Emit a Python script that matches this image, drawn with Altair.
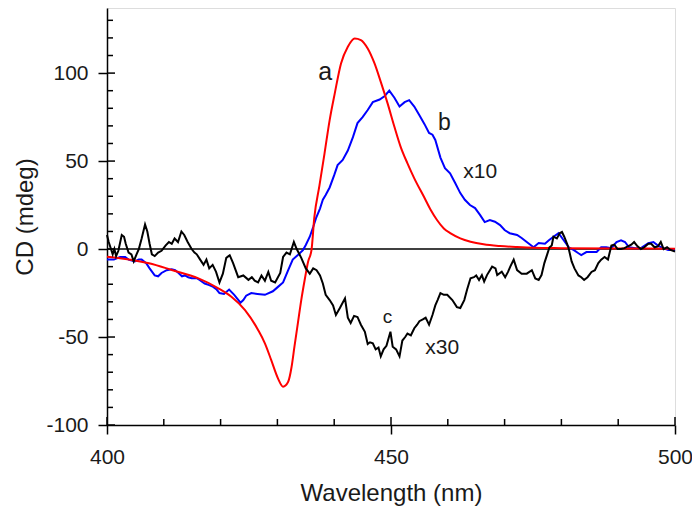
import altair as alt
import pandas as pd

# ---- data ----
# curve a (red)
a_x = [400.0, 404.4, 407.4, 411.4, 416.1, 419.6, 421.9, 424.3, 426.6, 427.8, 428.9, 430.1, 431.0,
       431.9, 432.5, 433.0, 433.6, 434.2, 434.8, 435.4, 436.0, 436.5, 437.4, 438.3, 439.2, 440.1,
       441.2, 442.4, 443.6, 444.7, 445.9, 447.1, 448.2, 449.4, 450.6, 451.7, 452.9, 454.1, 455.8,
       457.0, 458.1, 459.3, 460.5, 462.2, 464.0, 466.3, 469.2, 472.2, 475.1, 480.0, 490.0, 500.0]
a_y = [-4.4, -6.2, -8.1, -11.9, -16.7, -22.3, -27.1, -34.7, -46.0, -53.6, -63.0, -73.5, -78.2,
       -75.4, -66.9, -55.5, -42.2, -29.0, -17.6, -7.2, -0.6, 18.0, 36.0, 54.4, 73.3, 88.5,
       105.5, 115.0, 119.7, 118.8, 114.0, 105.5, 95.0, 82.8, 69.5, 58.1, 48.7, 40.2, 29.7,
       22.2, 16.5, 11.7, 8.9, 6.1, 4.2, 2.7, 1.7, 1.1, 0.7, 0.5, 0.3, 0.2]

# curve b (blue, x10)
b_x = [400.0, 401.2, 402.3, 403.2, 403.8, 404.9, 405.6, 406.1, 406.9, 407.5, 408.4, 409.0, 409.6,
       410.5, 411.4, 412.0, 412.6, 413.2, 413.7, 414.3, 414.9, 415.8, 416.3, 417.2, 418.0, 418.7,
       419.3, 419.8, 420.6, 421.5, 422.4, 423.0, 423.5, 424.0, 424.5, 425.4, 426.5, 427.8, 429.2,
       430.1, 431.0, 431.9, 432.7, 433.6, 434.5, 435.0, 435.7, 436.3, 436.8, 437.5, 438.0, 438.5,
       439.2, 440.0, 440.6, 441.5, 442.4, 443.3, 444.1, 445.0, 445.9, 446.8, 448.0, 448.9, 449.7,
       450.6, 451.5, 452.4, 453.2, 454.1, 455.0, 455.9, 456.7, 457.3, 457.8, 458.7, 459.5, 460.4,
       461.3, 462.2, 463.0, 463.9, 464.8, 465.7, 466.5, 467.4, 468.3, 469.2, 470.0, 470.9, 472.2,
       473.0, 473.9, 475.1, 476.0, 477.1, 477.8, 478.6, 479.5, 480.4, 481.3, 482.2, 483.0, 483.5,
       484.4, 485.3, 486.2, 487.0, 487.9, 488.8, 489.7, 490.5, 491.2, 491.9, 493.0, 494.0, 495.3,
       496.2, 497.0, 497.9, 498.8, 500.0]
b_y = [-6.0, -6.0, -4.5, -4.5, -6.0, -7.0, -6.0, -6.0, -8.0, -11.0, -15.0, -15.5, -13.6,
       -12.0, -11.5, -12.0, -13.6, -15.5, -15.0, -16.0, -16.6, -16.6, -17.6, -19.6, -20.5, -21.5,
       -23.0, -25.0, -25.5, -23.0, -26.0, -28.5, -30.5, -29.0, -26.5, -25.0, -25.5, -26.0, -24.0,
       -21.5, -19.0, -12.0, -6.0, -3.4, -0.6, 2.3, 7.0, 12.5, 17.6, 23.0, 28.0, 30.7,
       35.0, 42.0, 47.7, 50.6, 56.0, 63.6, 71.6, 75.0, 79.0, 83.5, 85.0, 87.0, 90.0,
       86.0, 81.0, 83.5, 84.6, 81.0, 76.0, 71.0, 66.0, 65.0, 62.0, 52.0, 46.0, 43.0,
       37.5, 31.8, 28.0, 25.0, 23.3, 19.3, 15.3, 16.5, 15.5, 13.6, 10.8, 9.0, 8.0,
       6.3, 4.0, 1.0, 3.4, 3.0, 5.0, 7.0, 9.0, 5.0, 1.0, -0.6, -2.4, -3.4,
       -1.7, -1.7, -1.7, 1.0, 1.0, 0.5, 4.0, 5.0, 4.0, 1.0, 0.5, 0.5, 3.4,
       4.0, 2.0, 0.5, -0.6, -0.6]

# curve c (black, x30)
c_x = [400.0, 400.3, 400.6, 401.0, 401.3, 401.6, 402.0, 402.6, 403.0, 403.3, 403.8, 404.3, 404.7,
       405.2, 405.6, 406.1, 406.7, 407.1, 407.5, 407.9, 408.4, 409.0, 409.6, 410.3, 410.9, 411.4,
       411.9, 412.5, 413.1, 413.6, 414.2, 414.9, 415.4, 415.8, 416.4, 417.0, 417.5, 418.0, 418.6,
       419.2, 419.8, 420.4, 421.0, 421.6, 422.2, 423.1, 424.0, 424.9, 425.5, 426.0, 426.6, 427.2,
       427.8, 428.4, 428.9, 429.6, 430.5, 431.0, 431.6, 432.2, 432.9, 433.4, 434.2, 435.0, 435.7,
       436.3, 436.9, 437.5, 438.0, 438.5, 439.2, 439.8, 440.3, 441.0, 441.9, 442.4, 442.9, 443.5,
       444.1, 444.7, 445.4, 445.9, 446.3, 446.8, 447.3, 447.8, 448.2, 448.7, 449.2, 449.9, 450.3,
       450.9, 451.5, 452.0, 452.5, 452.9, 453.5, 454.1, 454.6, 455.0, 455.6, 456.1, 456.7, 457.3,
       457.8, 458.2, 458.7, 459.3, 459.9, 460.8, 461.6, 462.2, 462.9, 463.4, 464.0, 464.6, 465.0,
       465.5, 466.0, 466.4, 466.9, 467.8, 468.4, 468.7, 469.5, 470.1, 470.6, 471.0, 471.6, 472.2,
       473.0, 473.9, 474.8, 475.4, 476.0, 476.5, 477.0, 477.5, 477.9, 478.3, 478.6, 479.2, 479.7,
       480.1, 480.5, 481.0, 481.3, 481.8, 482.3, 483.0, 483.5, 484.0, 484.6, 485.3, 485.9, 486.5,
       487.0, 487.6, 488.2, 488.8, 489.3, 489.9, 490.5, 491.1, 491.7, 492.3, 492.8, 493.4, 494.0,
       494.6, 495.3, 495.8, 496.4, 497.0, 497.5, 498.0, 498.6, 499.2, 500.0]
c_y = [8.0, 4.0, 1.0, -3.0, 0.0, -4.0, -1.0, 8.0, 7.0, 3.0, -2.0, -3.0, -7.0,
       -3.0, 0.0, 6.0, 14.0, 10.0, 3.0, -3.0, -4.0, -2.0, -1.0, 2.0, 4.0, 3.0,
       6.0, 4.0, 10.0, 8.0, 4.0, 0.0, -2.0, -3.0, -6.0, -9.0, -6.0, -11.0, -9.0,
       -13.0, -19.0, -14.0, -5.0, -3.5, -8.0, -16.0, -15.0, -17.5, -16.0, -18.0, -19.0, -15.0,
       -18.0, -13.0, -18.0, -19.0, -13.6, -4.5, -2.0, -3.0, 4.0, 0.0, -5.0, -11.0, -14.0,
       -11.0, -12.0, -15.0, -19.6, -26.0, -29.0, -32.0, -37.5, -33.5, -28.0, -39.0, -42.0, -38.0,
       -38.6, -43.0, -47.0, -54.0, -53.0, -53.6, -57.0, -56.0, -61.0, -57.0, -55.0, -47.0, -55.5,
       -57.0, -61.0, -52.0, -50.0, -48.0, -49.0, -45.0, -43.0, -41.0, -40.0, -39.0, -43.0, -37.5,
       -32.0, -29.0, -25.0, -26.0, -26.0, -29.0, -33.0, -33.5, -29.0, -23.0, -16.6, -16.0, -15.0,
       -17.6, -14.8, -18.5, -14.8, -10.0, -11.0, -14.8, -12.9, -16.0, -13.0, -10.0, -6.0, -12.0,
       -14.0, -14.0, -12.0, -16.7, -17.6, -14.8, -8.0, -3.0, 1.0, 2.0, 7.0, 6.0, 9.0,
       9.7, 7.0, 3.0, 0.0, -7.0, -11.0, -15.0, -16.0, -17.6, -16.0, -13.0, -12.0, -8.0,
       -6.0, -4.5, -6.0, 2.0, 2.5, 0.0, 0.0, 0.5, 1.5, 2.5, 4.0, 1.5, 0.0,
       1.0, 3.0, 3.0, 1.0, 1.5, 4.0, 0.0, 1.0, -0.5, -1.5]

x_major = [400, 450, 500]
x_minor = [410, 420, 430, 440, 460, 470, 480, 490]
y_major = [-100, -50, 0, 50, 100]
y_minor = [-90, -80, -70, -60, -40, -30, -20, -10, 10, 20, 30, 40, 60, 70, 80, 90, 110, 120, 130]

labels = ["a", "b", "x10", "c", "x30"]
label_x = [438.4, 459.4, 465.7, 449.4, 459.0]
label_y = [100.5, 71.6, 43.7, -38.6, -56.0]
label_size = [25, 23, 21, 19, 21]

# ---- chart ----
W, H = 568, 417
FONT = "Liberation Sans"
xs = alt.Scale(domain=[400, 500], nice=False, zero=False)
ys = alt.Scale(domain=[-100, 137], nice=False, zero=False)
HYPHEN = "datum.value < 0 ? '-' + abs(datum.value) : '' + datum.value"

x_axis = alt.Axis(values=x_major, tickSize=9, tickWidth=1.5, tickColor="black",
                  domainColor="black", domainWidth=1.5, labelFontSize=21, labelFont=FONT,
                  labelColor="#1a1a1a", labelPadding=12, labelFlush=False, labelExpr=HYPHEN,
                  title="Wavelength (nm)",
                  titleFont=FONT, titleFontSize=24, titleFontWeight="normal",
                  titleColor="#1a1a1a", titleBaseline="alphabetic", titleY=75, grid=False)
y_axis = alt.Axis(values=y_major, tickSize=9, tickWidth=1.5, tickColor="black",
                  domainColor="black", domainWidth=1.5, labelFontSize=21, labelFont=FONT,
                  labelColor="#1a1a1a", labelPadding=10, labelFlush=False, labelExpr=HYPHEN,
                  title="CD (mdeg)",
                  titleFont=FONT, titleFontSize=24, titleFontWeight="normal",
                  titleColor="#1a1a1a", titleBaseline="alphabetic", titleAngle=270,
                  titleX=-75, titleY=H / 2, titleAlign="center", grid=False)

X = lambda f: alt.X(f, scale=xs, axis=x_axis)
Y = lambda f: alt.Y(f, scale=ys, axis=y_axis)


def curve(xv, yv, color, interp="linear"):
    df = pd.DataFrame({"x": xv, "y": yv})
    return alt.Chart(df).mark_line(color=color, strokeWidth=2, interpolate=interp).encode(
        x=X("x:Q"), y=Y("y:Q"))


zero = alt.Chart(pd.DataFrame({"y": [0]})).mark_rule(color="black", strokeWidth=1.5).encode(
    y=Y("y:Q"))


def xticks(vals, length):
    return alt.Chart(pd.DataFrame({"x": vals})).mark_rule(color="black", strokeWidth=1.5).encode(
        x=X("x:Q"), y=alt.value(H), y2=alt.value(H - length))


def yticks(vals, length):
    return alt.Chart(pd.DataFrame({"y": vals})).mark_rule(color="black", strokeWidth=1.5).encode(
        y=Y("y:Q"), x=alt.value(0), x2=alt.value(length))


texts = []
for t, lx, ly, s in zip(labels, label_x, label_y, label_size):
    texts.append(alt.Chart(pd.DataFrame({"x": [lx], "y": [ly], "t": [t]})).mark_text(
        font=FONT, fontSize=s, color="#1a1a1a", align="center", baseline="middle").encode(
        x=X("x:Q"), y=Y("y:Q"), text="t:N"))

chart = alt.layer(
    zero,
    xticks(x_major, 8), xticks(x_minor, 6),
    yticks(y_major, 8), yticks(y_minor, 6),
    curve(b_x, b_y, "#0000ff"),
    curve(a_x, a_y, "#ff0000", "monotone"),
    curve(c_x, c_y, "#000000"),
    *texts,
).properties(
    width=W, height=H,
    autosize=alt.AutoSizeParams(type="none"),
    padding={"left": 99, "top": 0, "right": 17, "bottom": 83},
).configure_view(stroke="black", strokeWidth=1.5).configure(background="white")

chart.save("out.html", embed_options={"renderer": "svg", "actions": False})
